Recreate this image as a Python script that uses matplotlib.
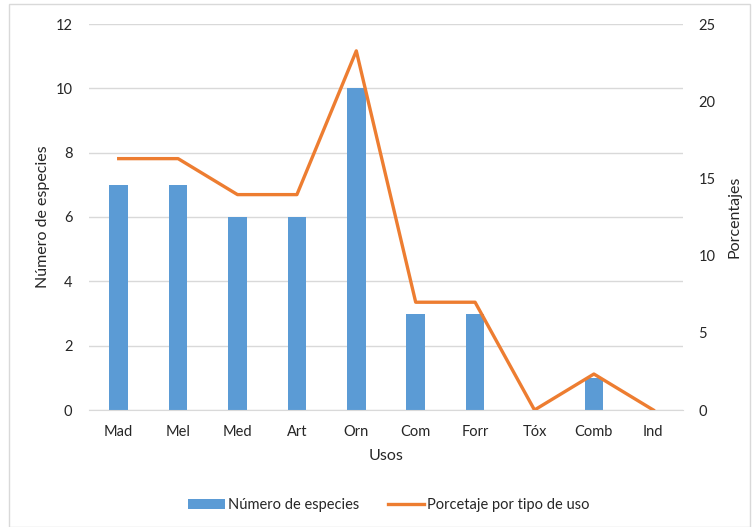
import matplotlib
matplotlib.use("Agg")
import matplotlib.pyplot as plt
from matplotlib.patches import Rectangle

categories = ["Mad", "Mel", "Med", "Art", "Orn", "Com", "Forr", "Tóx", "Comb", "Ind"]
num_especies = [7, 7, 6, 6, 10, 3, 3, 0, 1, 0]
porcentaje = [16.28, 16.28, 13.95, 13.95, 23.26, 6.98, 6.98, 0, 2.33, 0]

plt.rcParams['font.family'] = ['Lato', 'DejaVu Sans']
txt = '#262626'

fig = plt.figure(figsize=(7.53, 5.27), dpi=100)
fig.patches.append(Rectangle((9/753, 0), 741/753, 523/527, transform=fig.transFigure,
                             fill=False, edgecolor='#D9D9D9', linewidth=1.0))
ax = fig.add_axes([89/753, (527-410)/527, (683-89)/753, (410-24)/527])
x = list(range(len(categories)))
b = ax.bar(x, num_especies, width=0.31, color='#5B9BD5', zorder=2, label='Número de especies')
ax.set_xlim(-0.5, len(categories) - 0.5)
ax.set_ylim(0, 12)
ax.set_yticks(range(0, 13, 2))
ax.grid(axis='y', color='#D9D9D9', linewidth=1.0, zorder=0)
for s in ['top', 'right', 'left']:
    ax.spines[s].set_visible(False)
ax.spines['bottom'].set_color('#D9D9D9')
ax.tick_params(axis='both', length=0, labelsize=10.5, colors=txt)
ax.tick_params(axis='x', pad=11)
ax.tick_params(axis='y', pad=12)
ax.set_xticks(x)
ax.set_xticklabels(categories)
ax.set_xlabel('Usos', fontsize=11.5, color=txt, labelpad=7)
ax.set_ylabel('Número de especies', fontsize=11.5, color=txt, labelpad=4)

ax2 = ax.twinx()
l, = ax2.plot(x, porcentaje, color='#ED7D31', linewidth=2.4, zorder=3, label='Porcetaje por tipo de uso')
ax2.set_ylim(0, 25)
ax2.set_yticks(range(0, 26, 5))
for s in ax2.spines.values():
    s.set_visible(False)
ax2.tick_params(axis='y', length=0, labelsize=10.5, colors=txt, pad=11)
ax2.set_ylabel('Porcentajes', fontsize=11.5, color=txt, labelpad=9)

fig.legend(handles=[b, l], labels=['Número de especies', 'Porcetaje por tipo de uso'],
           loc='center', bbox_to_anchor=(389/753, 1 - 505/527), ncol=2, frameon=False,
           fontsize=10.5, handlelength=2.5, handletextpad=0.2, columnspacing=2.0,
           labelcolor=txt)

fig.savefig('out.png', dpi=100)
